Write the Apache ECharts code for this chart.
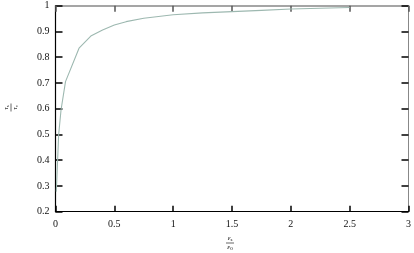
<!DOCTYPE html>
<html><head><meta charset="utf-8">
<script src="https://cdn.jsdelivr.net/npm/echarts@6/dist/echarts.min.js"></script>
<style>html,body{margin:0;padding:0;background:#fff}#c{width:414px;height:253px}</style>
</head><body><div id="c"></div>
<script>
var xValues = [0.007, 0.027, 0.047, 0.085, 0.2, 0.3, 0.4, 0.5, 0.6, 0.75, 1.0, 1.25, 1.5, 1.75, 2.0, 2.25, 2.5];
var yValues = [0.278, 0.50, 0.595, 0.705, 0.835, 0.882, 0.906, 0.925, 0.938, 0.951, 0.965, 0.972, 0.977, 0.982, 0.987, 0.990, 0.993];
var xTicks = [0, 0.5, 1, 1.5, 2, 2.5, 3];
var yTicks = [0.2, 0.3, 0.4, 0.5, 0.6, 0.7, 0.8, 0.9, 1];

var data = xValues.map(function(x, i){ return [x, yValues[i]]; });
var font = 'Liberation Serif';
var chart = echarts.init(document.getElementById('c'));
function fracText(top, topSub, bot, botSub){
  return [
    { type:'text', x:0, y:-4.5, style:{ text:'{a|'+top+'}{b|'+topSub+'}', align:'center', verticalAlign:'middle',
      rich:{a:{fontFamily:font, fontSize:7, fontStyle:'italic', fill:'#000'}, b:{fontFamily:font, fontSize:5, fill:'#000', padding:[3,0,0,0]}} } },
    { type:'line', shape:{x1:-4, y1:0, x2:4, y2:0}, style:{stroke:'#000', lineWidth:0.6} },
    { type:'text', x:0, y:4.5, style:{ text:'{a|'+bot+'}{b|'+botSub+'}', align:'center', verticalAlign:'middle',
      rich:{a:{fontFamily:font, fontSize:7, fontStyle:'italic', fill:'#000'}, b:{fontFamily:font, fontSize:5, fill:'#000', padding:[3,0,0,0]}} } }
  ];
}
function tickStyle(c, len){ return {show:true, inside:true, length:len, lineStyle:{color:c, width:1.5}}; }
chart.setOption({
  animation:false,
  backgroundColor:'#fff',
  grid:{left:55.5, right:5, top:5.7, bottom:41.3},
  xAxis:[
    {type:'value', min:0, max:3, interval:0.5, position:'bottom',
     axisLine:{show:true, onZero:false, lineStyle:{color:'#000', width:1.2}},
     axisTick:tickStyle('#000', 6),
     axisLabel:{show:true, margin:8, fontFamily:font, fontSize:10, color:'#111',
       formatter:function(v){ var i = xTicks.indexOf(v); return i >= 0 ? String(xTicks[i]) : ''; }},
     splitLine:{show:false}},
    {type:'value', min:0, max:3, interval:0.5, position:'top',
     axisLine:{show:true, onZero:false, lineStyle:{color:'#888', width:1.5}},
     axisTick:tickStyle('#555', 6),
     axisLabel:{show:false}, splitLine:{show:false}}
  ],
  yAxis:[
    {type:'value', min:0.2, max:1, interval:0.1, position:'left',
     axisLine:{show:true, onZero:false, lineStyle:{color:'#000', width:1.2}},
     axisTick:tickStyle('#000', 7),
     axisLabel:{show:true, margin:6, fontFamily:font, fontSize:10, color:'#111',
       formatter:function(v){ var r = Math.round(v*10)/10; return yTicks.indexOf(r) >= 0 ? String(r) : ''; }},
     splitLine:{show:false}},
    {type:'value', min:0.2, max:1, interval:0.1, position:'right',
     axisLine:{show:true, onZero:false, lineStyle:{color:'#888', width:1}},
     axisTick:tickStyle('#000', 7),
     axisLabel:{show:false}, splitLine:{show:false}}
  ],
  graphic:[
    { type:'group', x:230, y:243, children: fracText('ε','s','ε','0') },
    { type:'group', x:11, y:107.5, rotation:Math.PI/2, children: fracText('τ','s','τ','c') }
  ],
  series:[{
    type:'line', data:data, xAxisIndex:0, yAxisIndex:0, showSymbol:false, smooth:false,
    lineStyle:{color:'#9db8b0', width:1.1}
  }]
});
</script></body></html>
